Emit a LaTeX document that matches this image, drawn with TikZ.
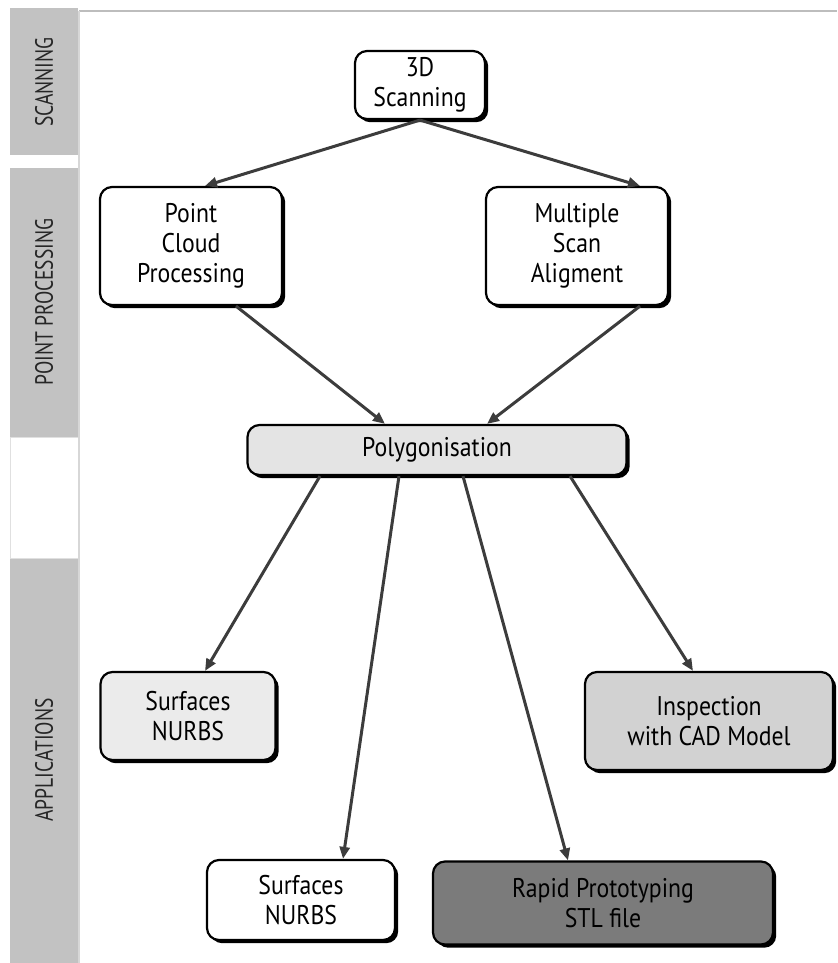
\documentclass[tikz,border=0pt]{standalone}
\usepackage{fontspec}
\setmainfont{PT Sans}[FakeStretch=0.88]
\newfontfamily\barfont{PT Sans}[FakeStretch=0.78]
\usepackage{tikz}
\usetikzlibrary{arrows.meta,positioning,calc,shadows}
\definecolor{scanBar}{HTML}{C2C2C2}
\definecolor{scanRule}{HTML}{BDBDBD}
\definecolor{scanArrow}{HTML}{3C3C3C}
\definecolor{scanPoly}{HTML}{E4E4E4}
\definecolor{scanSurf}{HTML}{EBEBEB}
\definecolor{scanInsp}{HTML}{D2D2D2}
\definecolor{scanRapid}{HTML}{7B7B7B}

\tikzset{
  stagebox/.style={draw=black,line width=1.1pt,rounded corners=6pt,fill=white,
        align=center,inner sep=2pt,text=black,
        drop shadow={shadow xshift=1.6pt,shadow yshift=-1.6pt,fill=black,opacity=1}},
  flow/.style={draw=scanArrow,line width=1.5pt,-{Triangle[length=6pt,width=5pt]}},
  barlabel/.style={rotate=90,font=\barfont\fontsize{12.5}{14}\selectfont,text=black!85}
}

\begin{document}
\begin{tikzpicture}[x=0.5pt,y=-0.5pt,font=\fontsize{13.5}{15}\selectfont]
  \useasboundingbox (0,0) rectangle (837,963);

  % side bar
  \fill[scanBar] (10,8) rectangle (78,155);
  \fill[scanBar] (10,168) rectangle (78,437);
  \fill[scanBar] (10,558) rectangle (78,963);
  \draw[scanBar!50,line width=0.5pt] (10,437) rectangle (78,558);
  \draw[scanRule,line width=1pt] (79,11) -- (837,11);
  \draw[scanRule!60,line width=0.6pt] (79,11) -- (79,963);
  \node[barlabel] (lscan) at (44,82) {SCANNING};
  \node[barlabel] (lpoint) at (44,302) {POINT PROCESSING};
  \node[barlabel] (lapp) at (44,760) {APPLICATIONS};

  % boxes
  \node[stagebox,minimum width=65pt,minimum height=34pt] (scan) at (420,85)
    {3D\\Scanning};
  \node[stagebox,minimum width=91pt,minimum height=59pt] (cloud) at (191,246)
    {Point\\Cloud\\Processing};
  \node[stagebox,minimum width=91pt,minimum height=59pt] (align) at (577,246)
    {Multiple\\Scan\\Aligment};
  \node[stagebox,fill=scanPoly,minimum width=189.5pt,minimum height=25pt] (poly) at (437,450)
    {Polygonisation};
  \node[stagebox,fill=scanSurf,minimum width=87.5pt,minimum height=44pt] (surfa) at (188,716)
    {Surfaces\\NURBS};
  \node[stagebox,fill=scanInsp,minimum width=124pt,minimum height=49pt] (insp) at (709,721)
    {Inspection\\with CAD Model};
  \node[stagebox,minimum width=94pt,minimum height=40pt] (surfb) at (301,900)
    {Surfaces\\NURBS};
  \node[stagebox,fill=scanRapid,minimum width=170pt,minimum height=41.5pt] (rapid) at (603,903)
    {Rapid Prototyping\\STL file};

  % connectors
  \draw[flow] (scan.south) -- ($(cloud.north)+(14,0)$);
  \draw[flow] (scan.south) -- ($(align.north)+(63,0)$);
  \draw[flow] ($(cloud.south)+(45,0)$) -- ($(poly.north)+(-52,0)$);
  \draw[flow] ($(align.south)+(63,0)$) -- ($(poly.north)+(50,0)$);
  \draw[flow] ($(poly.south)+(-117,0)$) -- ($(surfa.north)+(17,0)$);
  \draw[flow] ($(poly.south)+(-38,0)$) -- ($(surfb.north)+(42,0)$);
  \draw[flow] ($(poly.south)+(26,0)$) -- ($(rapid.north)+(-35,0)$);
  \draw[flow] ($(poly.south)+(133,0)$) -- ($(insp.north)+(-16,0)$);
\end{tikzpicture}
\end{document}
